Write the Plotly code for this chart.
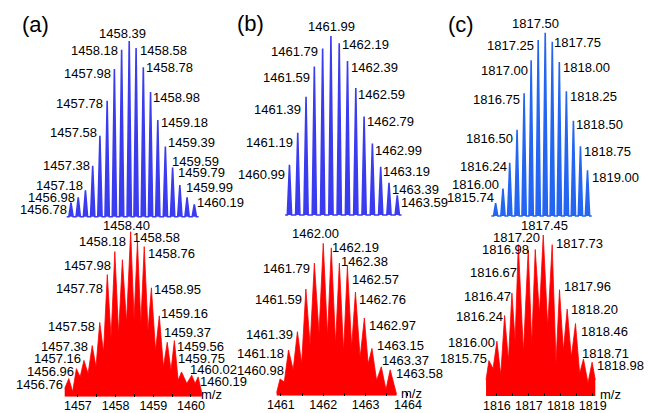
import plotly.graph_objects as go

W, H = 653, 413
FONT = "Arial, 'Liberation Sans', sans-serif"

# ---------------- (a) ----------------
a_calc_mz = [1456.78, 1456.98, 1457.18, 1457.38, 1457.58, 1457.78, 1457.98, 1458.18, 1458.39,
             1458.58, 1458.78, 1458.98, 1459.18, 1459.39, 1459.59, 1459.79, 1459.99, 1460.19]
a_calc_int = [8, 11, 15, 29, 46, 66, 84, 95, 100, 96, 85, 71, 55, 40, 28, 18, 11, 7]
a_meas_mz = [1456.76, 1456.96, 1457.16, 1457.38, 1457.58, 1457.78, 1457.98, 1458.18, 1458.40,
             1458.58, 1458.76, 1458.95, 1459.16, 1459.37, 1459.56, 1459.75, 1460.02, 1460.19]
a_meas_int = [11, 17, 22, 31, 45, 74, 88, 83, 100, 94, 91, 66, 49, 33, 34, 15, 13, 12]
a_valley_mz = [1456.86, 1457.06, 1457.27, 1457.48, 1457.68, 1457.88, 1458.08, 1458.29, 1458.49,
               1458.67, 1458.86, 1459.06, 1459.27, 1459.47, 1459.66, 1459.89, 1460.11]
a_valley_int = [3, 12, 14, 18, 27, 36, 38, 45, 47, 44, 40, 28, 18, 16, 10, 8, 8]
a_meas_start = (1456.65, 5)
a_meas_end = (1460.29, 2)
a_ticks = [1457, 1458, 1459, 1460]

# ---------------- (b) ----------------
b_calc_mz = [1460.99, 1461.19, 1461.39, 1461.59, 1461.79, 1461.99, 1462.19,
             1462.39, 1462.59, 1462.79, 1462.99, 1463.19, 1463.39, 1463.59]
b_calc_int = [28, 46, 66, 83, 93, 100, 96, 86, 71, 55, 40, 27, 18, 11]
b_meas_mz = [1460.98, 1461.18, 1461.39, 1461.59, 1461.79, 1462.00, 1462.19,
             1462.38, 1462.57, 1462.76, 1462.97, 1463.15, 1463.37, 1463.58]
b_meas_int = [11, 30, 42, 70, 87, 100, 97, 87, 85, 68, 51, 31, 19, 17]
b_valley_mz = [1461.08, 1461.29, 1461.49, 1461.69, 1461.90, 1462.10, 1462.29,
               1462.48, 1462.67, 1462.87, 1463.06, 1463.26, 1463.48]
b_valley_int = [9, 17, 21, 33, 41, 39, 34, 29, 32, 25, 21, 10, 4]
b_meas_start = (1460.90, 2)
b_meas_end = (1463.73, 1)
b_ticks = [1461, 1462, 1463, 1464]

# ---------------- (c) ----------------
c_calc_mz = [1815.74, 1816.00, 1816.24, 1816.50, 1816.75, 1817.00, 1817.25,
             1817.50, 1817.75, 1818.00, 1818.25, 1818.50, 1818.75, 1819.00]
c_calc_int = [7, 15, 29, 47, 67, 85, 96, 100, 95, 84, 68, 52, 38, 25]
c_meas_mz = [1815.75, 1816.00, 1816.24, 1816.47, 1816.67, 1816.98, 1817.20,
             1817.45, 1817.73, 1817.96, 1818.20, 1818.46, 1818.71, 1818.98]
c_meas_int = [22, 34, 50, 64, 94, 91, 91, 100, 94, 66, 54, 45, 23, 21]
c_valley_mz = [1815.88, 1816.12, 1816.36, 1816.57, 1816.83, 1817.09, 1817.33,
               1817.59, 1817.85, 1818.08, 1818.33, 1818.59, 1818.85]
c_valley_int = [17, 13, 22, 34, 27, 32, 51, 43, 21, 28, 24, 14, 8]
c_meas_start = (1815.66, 10)
c_meas_end = (1819.08, 10)
c_ticks = [1816, 1817, 1818, 1819]

BLUE_AB = "#3b3bef"
BLUE_C = "#2466f2"
RED = "#ff0000"

# Label placement relative to each peak tip: side, x offset px, y offset px
a_calc_lab = [('L', -2.7, -6.4), ('L', -2.1, -0.6), ('L', -1.6, 5.3), ('L', -2, 0.7), ('L', -2.4, 2.9),
              ('L', -2.9, -2.3), ('L', -2.3, -3.9), ('L', -2.7, -1.2), ('C', -6.5, 8), ('R', 2.5, -2),
              ('R', 2, -0.6), ('R', 1.6, -5.1), ('R', 2.2, -2.9), ('R', 1.4, 4.4), ('R', -2, 6.5),
              ('R', -2.5, 12.1), ('R', -1.9, 9.4), ('R', 1.7, 2.4)]
a_meas_lab = [('L', -5.2, -5.7), ('L', -1.2, -2.4), ('L', -1.7, 2.1), ('L', -3.2, -0.5), ('L', -3.5, -4.2),
              ('L', -3.7, -13.7), ('L', -2.4, -13.5), ('L', 4.8, 18), ('C', -3.7, 6.7), ('R', -5.6, 4.3),
              ('R', 3.1, -6.8), ('R', 1.7, -1.5), ('R', 0.3, 2.5), ('R', -4.5, 9.6), ('R', 1.4, -5.4),
              ('R', -4.2, 13.6), ('R', -3, 5.7), ('R', 0.5, -4.1)]
b_calc_lab = [('L', -3.3, -9.4), ('L', -3.5, -9.6), ('L', -3.7, -13.1), ('L', -3.8, -10.9), ('L', -4.1, -2.5),
              ('C', 0.7, 10), ('R', 1.6, -1.8), ('R', 2.1, -6.6), ('R', 0.9, -6.1), ('R', 2.4, -5.1),
              ('R', 1.5, -7.3), ('R', 1.3, -5), ('R', 2.1, -6.5), ('R', 2.6, -7.4)]
b_meas_lab = [('L', 4.7, 8.9), ('L', -4, -3.3), ('L', -3.9, -3.3), ('L', -2.9, -10.3), ('L', -3.3, -5.2),
              ('C', -7.4, 10), ('R', -0.3, 0.2), ('R', 0.5, 2.1), ('R', 3.8, -13.1), ('R', 2.9, -7.2),
              ('R', 4.1, -8), ('R', 3.6, 2.8), ('R', 0, 6.7), ('R', 4.9, -3.5)]
c_calc_lab = [('L', -1, 5.9), ('L', -3.2, 4.5), ('L', -2.2, -3.9), ('L', -3, -8.5), ('L', -2.6, -6.8),
              ('L', -2.2, -10.5), ('L', -2.7, -5.7), ('C', -9.3, 8.7), ('R', 1.1, -0.4), ('R', 2.9, -5.3),
              ('R', 2.4, -5.3), ('R', 1.8, -4.3), ('R', 2.2, -4.7), ('R', 3.3, -7.1)]
c_meas_lab = [('L', -0.8, 2.3), ('L', -1.3, -1), ('L', -0.9, -1.2), ('L', -0.1, -3.7), ('L', 0, -28),
              ('L', 1.6, -0.5), ('L', 5.9, 11.8), ('C', 1.1, 9), ('R', 3, 0.7), ('R', 3.4, 3),
              ('R', 3.1, -0.2), ('R', 4.6, -8.2), ('R', -2.6, 5.7), ('R', 4.3, -3.5)]


def stick_profile(mz, inten, half):
    """Narrow spikes for a calculated isotope pattern."""
    xs, ys = [mz[0] - 2 * half], [0]
    for m, h in zip(mz, inten):
        xs += [m - half, m, m + half]
        ys += [0, h, 0]
    xs.append(mz[-1] + 2 * half)
    ys.append(0)
    return xs, ys


def envelope(mz, inten, v_mz, v_int, start, end):
    """Measured profile: start, alternating peaks and valleys, end."""
    xs, ys = [start[0]], [start[1]]
    for i, (m, h) in enumerate(zip(mz, inten)):
        xs.append(m)
        ys.append(h)
        if i < len(v_mz):
            xs.append(v_mz[i])
            ys.append(v_int[i])
    xs.append(end[0])
    ys.append(end[1])
    return xs, ys


# subplot geometry: x (ref px, ref m/z, px per unit, domain px lo, hi); y (baseline px, px at 100, range)
geom = {
    1: ((65.7, 1456.78, 37.13, 52, 208), (216.7, 41.0, -3, 104)),
    2: ((63.5, 1456.76, 38.7, 56, 205), (396.7, 231.7, 0, 104)),
    3: ((290.0, 1460.99, 42.58, 272, 418), (215.0, 36.0, -3, 104)),
    4: ((281.2, 1461.0, 43.5, 274, 416), (395.7, 243.3, 0, 104)),
    5: ((501.7, 1815.74, 28.93, 486, 612), (216.0, 32.7, -3, 104)),
    6: ((503.0, 1816.0, 32.8, 488, 608), (396.0, 235.0, 0, 104)),
}

fig = go.Figure()
annotations = []
layout_axes = {}


def label_font(size=13):
    return dict(family=FONT, size=size, color="black")


def add_labels(n, mz, inten, specs):
    for m, h, (side, dx, dy) in zip(mz, inten, specs):
        annotations.append(dict(
            x=m, y=h, xref=f"x{n}", yref=f"y{n}", text=f"{m:.2f}", showarrow=False,
            xanchor={'L': 'right', 'R': 'left', 'C': 'center'}[side], yanchor="middle",
            xshift=dx, yshift=dy, borderpad=0, font=label_font()))


panels = [
    (1, 'calc', a_calc_mz, a_calc_int, a_calc_lab, BLUE_AB, None),
    (2, 'meas', a_meas_mz, a_meas_int, a_meas_lab, RED,
     (a_valley_mz, a_valley_int, a_meas_start, a_meas_end, a_ticks)),
    (3, 'calc', b_calc_mz, b_calc_int, b_calc_lab, BLUE_AB, None),
    (4, 'meas', b_meas_mz, b_meas_int, b_meas_lab, RED,
     (b_valley_mz, b_valley_int, b_meas_start, b_meas_end, b_ticks)),
    (5, 'calc', c_calc_mz, c_calc_int, c_calc_lab, BLUE_C, None),
    (6, 'meas', c_meas_mz, c_meas_int, c_meas_lab, RED,
     (c_valley_mz, c_valley_int, c_meas_start, c_meas_end, c_ticks)),
]

for n, kind, mz, inten, labs, color, extra in panels:
    (pref, vref, scale, dlo, dhi), (base, top, ylo, yhi) = geom[n]
    xrange = [vref + (dlo - pref) / scale, vref + (dhi - pref) / scale]

    def ypx(v):
        return base + (top - base) * v / 100.0

    ydom = [1 - ypx(ylo) / H, 1 - ypx(yhi) / H]
    suffix = "" if n == 1 else str(n)

    if kind == 'calc':
        xs, ys = stick_profile(mz, inten, 2.2 / scale)
        fig.add_trace(go.Scatter(x=xs, y=ys, mode="lines", fill="tozeroy",
                                 fillcolor=color, line=dict(color=color, width=1.6),
                                 xaxis=f"x{suffix}", yaxis=f"y{suffix}", hoverinfo="skip"))
        xax = dict(domain=[dlo / W, dhi / W], range=xrange, visible=False, anchor=f"y{suffix}")
    else:
        v_mz, v_int, start, end, ticks = extra
        xs, ys = envelope(mz, inten, v_mz, v_int, start, end)
        fig.add_trace(go.Scatter(x=xs, y=ys, mode="lines", fill="tozeroy",
                                 fillcolor=color, line=dict(color=color, width=0.8),
                                 xaxis=f"x{suffix}", yaxis=f"y{suffix}", hoverinfo="skip"))
        xax = dict(domain=[dlo / W, dhi / W], range=xrange, anchor=f"y{suffix}",
                   tickmode="array", tickvals=ticks, ticktext=[str(t) for t in ticks],
                   ticks="inside", ticklen=3, tickcolor="black", tickwidth=1,
                   minor=dict(dtick=0.5, ticks="inside", ticklen=3, tickcolor="black"),
                   showline=False, showgrid=False, zeroline=False,
                   tickfont=dict(family=FONT, size=12.5, color="black"))
    yax = dict(domain=ydom, range=[ylo, yhi], visible=False, anchor=f"x{suffix}")
    layout_axes[f"xaxis{suffix}"] = xax
    layout_axes[f"yaxis{suffix}"] = yax
    add_labels(n, mz, inten, labs)

# panel letters
for txt, px, py in [("(a)", 14, 25), ("(b)", 235, 23), ("(c)", 452, 24)]:
    annotations.append(dict(x=px / W, y=1 - py / H, xref="paper", yref="paper", text=txt,
                            showarrow=False, xanchor="left", yanchor="middle", borderpad=0,
                            font=label_font(22)))

# axis titles
for px, py in [(198, 394), (403, 393), (608, 394)]:
    annotations.append(dict(x=px / W, y=1 - py / H, xref="paper", yref="paper", text="m/z",
                            showarrow=False, xanchor="left", yanchor="middle", borderpad=0,
                            font=label_font(13)))

fig.update_layout(
    width=W, height=H, margin=dict(l=0, r=0, t=0, b=0),
    paper_bgcolor="white", plot_bgcolor="rgba(0,0,0,0)",
    showlegend=False, annotations=annotations, **layout_axes)

fig.write_html("out.html")
